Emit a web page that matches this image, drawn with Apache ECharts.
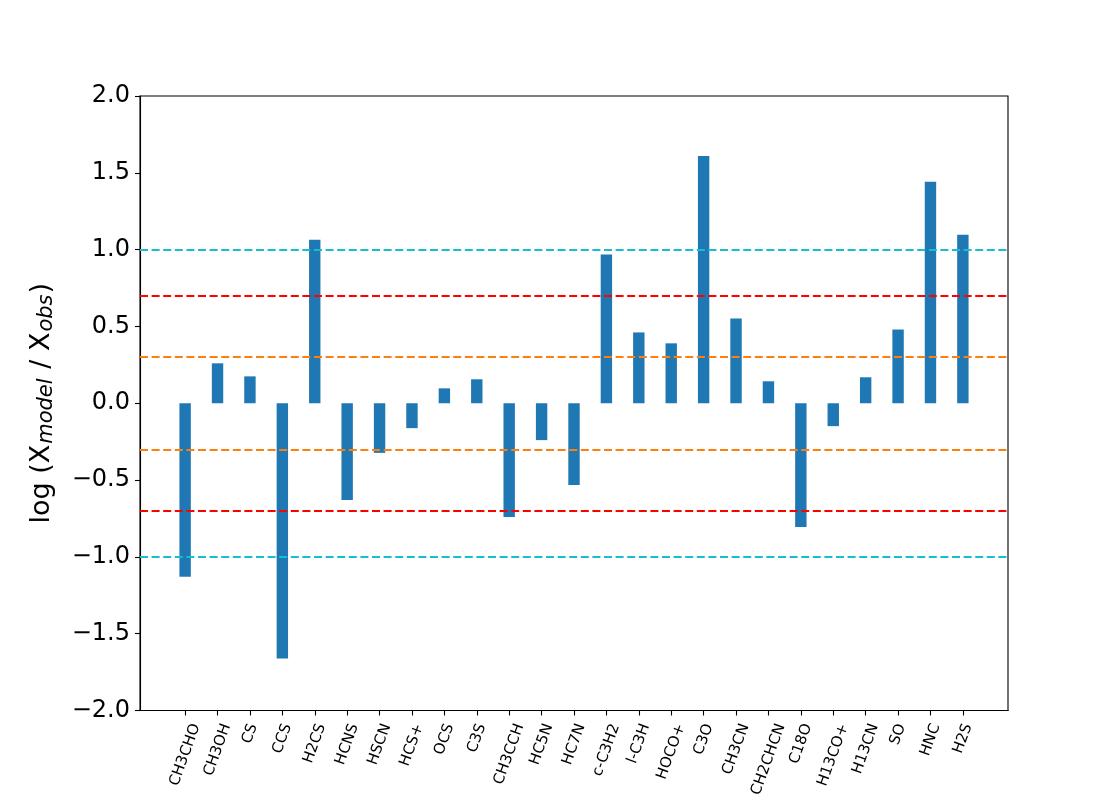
<!DOCTYPE html>
<html>
<head>
<meta charset="utf-8">
<script src="https://cdn.jsdelivr.net/npm/echarts@6/dist/echarts.min.js"></script>
<style>html,body{margin:0;padding:0;background:#fff}#c{width:1120px;height:800px}</style>
</head>
<body>
<div id="c"></div>
<script>
const categories = ['CH3CHO','CH3OH','CS','CCS','H2CS','HCNS','HSCN','HCS+','OCS','C3S','CH3CCH','HC5N','HC7N','c-C3H2','l-C3H','HOCO+','C3O','CH3CN','CH2CHCN','C18O','H13CO+','H13CN','SO','HNC','H2S'];
const logRatio = [-1.13, 0.26, 0.175, -1.662, 1.065, -0.63, -0.323, -0.162, 0.097, 0.156, -0.74, -0.24, -0.532, 0.968, 0.461, 0.39, 1.61, 0.552, 0.143, -0.805, -0.149, 0.169, 0.48, 1.442, 1.097];
const yTicks = [-2.0, -1.5, -1.0, -0.5, 0.0, 0.5, 1.0, 1.5, 2.0];
const refLines = [
  {value: 1.0, color: '#17becf'}, {value: -1.0, color: '#17becf'},
  {value: 0.7, color: '#ff0000'}, {value: -0.7, color: '#ff0000'},
  {value: 0.3, color: '#ff7f0e'}, {value: -0.3, color: '#ff7f0e'}
];

const font = 'DejaVu Sans';
const xFont = 15;
const idx = categories.map((_, i) => i);

// Per-label padding so rotated labels are centred under their tick (matplotlib style)
const ctx = document.createElement('canvas').getContext('2d');
ctx.font = xFont + 'px "' + font + '"';
const rich = {};
categories.forEach((c, i) => {
  const L = ctx.measureText(c).width;
  rich['l' + i] = {
    fontFamily: font, fontSize: xFont, color: '#000',
    padding: [0.32 * L, 0.88 * L, 0, 0]
  };
});

const chart = echarts.init(document.getElementById('c'), null, {renderer: 'canvas'});
chart.setOption({
  animation: false,
  grid: {left: 140, right: 112, top: 96, bottom: 88, show: true, borderColor: '#000', borderWidth: 1.1, backgroundColor: 'transparent'},
  xAxis: {
    type: 'value',
    min: -1.3925, max: 25.3925,
    splitLine: {show: false},
    axisLine: {show: true, onZero: false, lineStyle: {color: '#000', width: 1.1}},
    axisTick: {show: true, customValues: idx, length: 5, inside: false, lineStyle: {color: '#000', width: 1.1}},
    axisLabel: {
      customValues: idx, rotate: 70, margin: 14,
      align: 'center', verticalAlign: 'middle',
      fontFamily: font, fontSize: xFont, color: '#000',
      formatter: v => { const i = Math.round(v); return categories[i] ? '{l' + i + '|' + categories[i] + '}' : ''; },
      rich: rich
    }
  },
  yAxis: {
    type: 'value', min: -2, max: 2, interval: 0.5,
    splitLine: {show: false},
    axisLine: {show: true, onZero: false, lineStyle: {color: '#000', width: 1.1}},
    axisTick: {show: true, length: 5, lineStyle: {color: '#000', width: 1.1}},
    axisLabel: {
      fontFamily: font, fontSize: 24, color: '#000', margin: 10,
      customValues: yTicks,
      formatter: v => v.toFixed(1).replace('-', '\u2212')
    },
    name: 'log (X{sub|model} / X{sub|obs})',
    nameLocation: 'middle', nameRotate: 90, nameGap: 83,
    nameTextStyle: {
      fontFamily: font, fontSize: 27, color: '#000',
      rich: {sub: {fontFamily: font, fontSize: 21, fontStyle: 'italic', color: '#000', verticalAlign: 'bottom', padding: [9, 1, 0, 1]}}
    }
  },
  series: [{
    type: 'bar',
    data: categories.map((c, i) => [i, logRatio[i]]),
    barWidth: 11.4,
    itemStyle: {color: '#1f77b4'},
    markLine: {
      silent: true, symbol: 'none', label: {show: false},
      data: refLines.map(r => ({yAxis: r.value, lineStyle: {color: r.color, type: [8, 3.6], width: 1.8}}))
    }
  }]
});
</script>
</body>
</html>
